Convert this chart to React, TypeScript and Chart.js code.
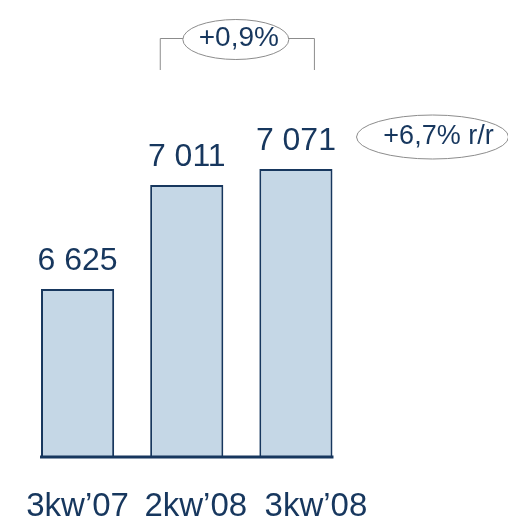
import React, { useEffect, useRef } from "react";
import { Chart, registerables } from "chart.js";

Chart.register(...registerables);

const categories = ["3kw’07", "2kw’08", "3kw’08"];
const values = [6625, 7011, 7071];
const changeQoQ = "+0,9%";
const changeYoY = "+6,7% r/r";
const yMin = 6000;
const yMax = 7500;

const FONT = "'Liberation Sans', Arial, Helvetica, sans-serif";
const NAVY = "#17375E";
const BAR_FILL = "#C5D7E6";
const GREY = "#8C8C8C";
const LABEL_NUDGE = [0, 9, 20];

const fmt = (v: number) => String(v).replace(/\B(?=(\d{3})+(?!\d))/g, " ");

const overlay = {
  id: "overlay",
  afterDatasetsDraw(chart: any) {
    const ctx = chart.ctx as CanvasRenderingContext2D;
    const bars = chart.getDatasetMeta(0).data as any[];
    const base = chart.scales.y.getPixelForValue(yMin);
    ctx.save();

    // baseline under the bars
    const first = bars[0];
    const last = bars[bars.length - 1];
    ctx.strokeStyle = NAVY;
    ctx.lineWidth = 3;
    ctx.beginPath();
    ctx.moveTo(first.x - first.width / 2 - 1, base);
    ctx.lineTo(last.x + last.width / 2 + 1, base);
    ctx.stroke();

    // value labels
    ctx.fillStyle = NAVY;
    ctx.textAlign = "center";
    ctx.textBaseline = "alphabetic";
    ctx.font = `32px ${FONT}`;
    bars.forEach((b, i) => ctx.fillText(fmt(values[i]), b.x, b.y - 19));

    // category labels
    ctx.font = `33px ${FONT}`;
    bars.forEach((b, i) => ctx.fillText(categories[i], b.x + LABEL_NUDGE[i], base + 59));

    // bracket with +0,9%
    const left = bars[1].x - 27;
    const right = bars[2].x + 18;
    const topY = 38;
    ctx.strokeStyle = GREY;
    ctx.lineWidth = 1;
    ctx.beginPath();
    ctx.moveTo(left + 0.5, topY + 32);
    ctx.lineTo(left + 0.5, topY + 0.5);
    ctx.lineTo(right + 0.5, topY + 0.5);
    ctx.lineTo(right + 0.5, topY + 32);
    ctx.stroke();
    const cx = (left + right) / 2 - 1;
    ctx.beginPath();
    ctx.ellipse(cx, 39.5, 53, 20, 0, 0, Math.PI * 2);
    ctx.fillStyle = "#FFFFFF";
    ctx.fill();
    ctx.stroke();
    ctx.fillStyle = NAVY;
    ctx.font = `28px ${FONT}`;
    ctx.textBaseline = "middle";
    ctx.fillText(changeQoQ, cx + 3, 38);

    // +6,7% r/r ellipse
    const ex = chart.chartArea.right + 82;
    ctx.beginPath();
    ctx.ellipse(ex, 137, 76, 22, 0, 0, Math.PI * 2);
    ctx.fillStyle = "#FFFFFF";
    ctx.fill();
    ctx.strokeStyle = GREY;
    ctx.stroke();
    ctx.fillStyle = NAVY;
    ctx.font = `27px ${FONT}`;
    ctx.fillText(changeYoY, ex + 6, 137);

    ctx.restore();
  },
};

export default function App() {
  const ref = useRef<HTMLCanvasElement | null>(null);
  useEffect(() => {
    if (!ref.current) return;
    const chart = new Chart(ref.current, {
      type: "bar",
      data: {
        labels: categories,
        datasets: [
          {
            data: values,
            backgroundColor: BAR_FILL,
            borderColor: NAVY,
            borderWidth: 2,
            barPercentage: 0.67,
            categoryPercentage: 1,
          },
        ],
      },
      options: {
        responsive: false,
        animation: false,
        layout: { padding: { left: 23, right: 157.5, top: 53.5, bottom: 64 } },
        scales: {
          x: { display: false },
          y: { display: false, min: yMin, max: yMax },
        },
        plugins: { legend: { display: false }, tooltip: { enabled: false } },
      },
      plugins: [overlay],
    });
    return () => chart.destroy();
  }, []);
  return (
    <div style={{ position: "fixed", left: 0, top: 0, width: 508, height: 521, background: "#fff" }}>
      <canvas ref={ref} width={508} height={521} />
    </div>
  );
}
